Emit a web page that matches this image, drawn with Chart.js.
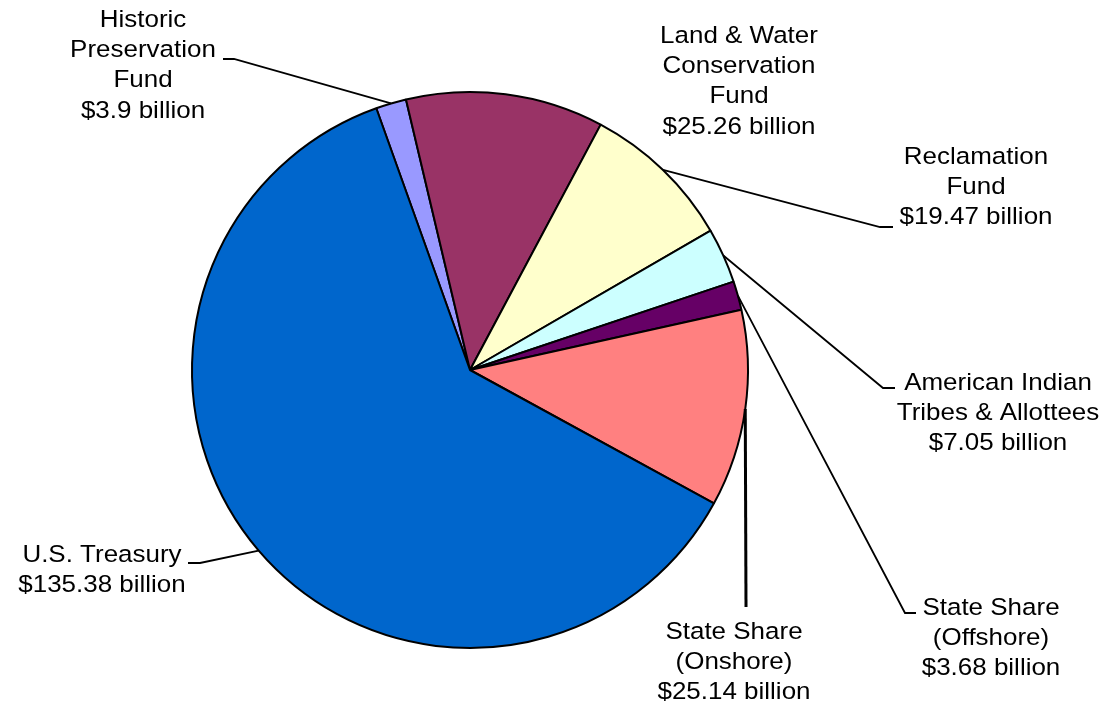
<!DOCTYPE html>
<html>
<head>
<meta charset="utf-8">
<script src="https://cdn.jsdelivr.net/npm/chart.js@4"></script>
<style>
  html, body { margin: 0; padding: 0; background: #fff; }
  canvas { display: block; }
</style>
</head>
<body>
<canvas id="pieChart" width="1101" height="705"></canvas>
<script>
// Data (billions of dollars), clockwise from the small Historic slice
const categories = [
    ['Historic', 'Preservation', 'Fund'],
    ['Land & Water', 'Conservation', 'Fund'],
    ['Reclamation', 'Fund'],
    ['American Indian', 'Tribes & Allottees'],
    ['State Share', '(Offshore)'],
    ['State Share', '(Onshore)'],
    ['U.S. Treasury']
];
const values = [3.9, 25.26, 19.47, 7.05, 3.68, 25.14, 135.38];
const valueLabels = ['$3.9 billion', '$25.26 billion', '$19.47 billion', '$7.05 billion',
    '$3.68 billion', '$25.14 billion', '$135.38 billion'];
const sliceColors = ['#9999FF', '#993366', '#FFFFCC', '#CCFFFF', '#660066', '#FF8080', '#0066CC'];

// Label placement: text centre (x, first line y), leader elbow and end of the short tick
const labelLayout = [
    { x: 143, y: 20, elbow: [234, 59], end: [223, 59] },
    { x: 739, y: 36, elbow: null, end: null },
    { x: 976, y: 157, elbow: [880, 227], end: [893, 227] },
    { x: 998, y: 383, elbow: [883, 388], end: [895, 388] },
    { x: 991, y: 608, elbow: [905, 613], end: [916, 613] },
    { x: 734, y: 632, elbow: [746, 607], end: [746, 607], width: 3 },
    { x: 102, y: 555, elbow: [200, 563], end: [188, 563] }
];

const LINE_H = 30.3;

// Draw outside labels with leader lines
const outsideLabels = {
    id: 'outsideLabels',
    afterDraw(chart) {
        const c = chart.ctx;
        const arcs = chart.getDatasetMeta(0).data;
        c.save();
        arcs.forEach((arc, i) => {
            const lay = labelLayout[i];
            const p = arc.getProps(['x', 'y', 'startAngle', 'endAngle', 'outerRadius'], true);
            const mid = (p.startAngle + p.endAngle) / 2;
            const sx = p.x + Math.cos(mid) * p.outerRadius;
            const sy = p.y + Math.sin(mid) * p.outerRadius;

            if (lay.elbow) {
                c.beginPath();
                c.strokeStyle = '#000';
                c.lineWidth = lay.width || 1.8;
                c.moveTo(sx, sy);
                c.lineTo(lay.elbow[0], lay.elbow[1]);
                c.lineTo(lay.end[0], lay.end[1]);
                c.stroke();
            }

            const lines = categories[i].concat([valueLabels[i]]);
            c.fillStyle = '#000';
            c.font = '24.5px "Liberation Sans", Arial, sans-serif';
            c.textAlign = 'center';
            c.textBaseline = 'middle';
            lines.forEach((t, k) => {
                c.save();
                c.translate(lay.x, lay.y + k * LINE_H);
                c.scale(1.06, 1);
                c.fillText(t, 0, 0);
                c.restore();
            });
        });
        c.restore();
    }
};

const ctx = document.getElementById('pieChart').getContext('2d');
const pieChart = new Chart(ctx, {
    type: 'pie',
    data: {
        labels: categories.map(l => l.join(' ')),
        datasets: [{
            data: values,
            backgroundColor: sliceColors,
            borderColor: '#000',
            borderWidth: 2
        }]
    },
    options: {
        responsive: false,
        animation: false,
        rotation: -19.7,
        radius: 278,
        layout: { padding: { left: 0, right: 161, top: 35, bottom: 0 } },
        plugins: {
            legend: { display: false },
            tooltip: { enabled: false }
        }
    },
    plugins: [outsideLabels]
});
</script>
</body>
</html>
